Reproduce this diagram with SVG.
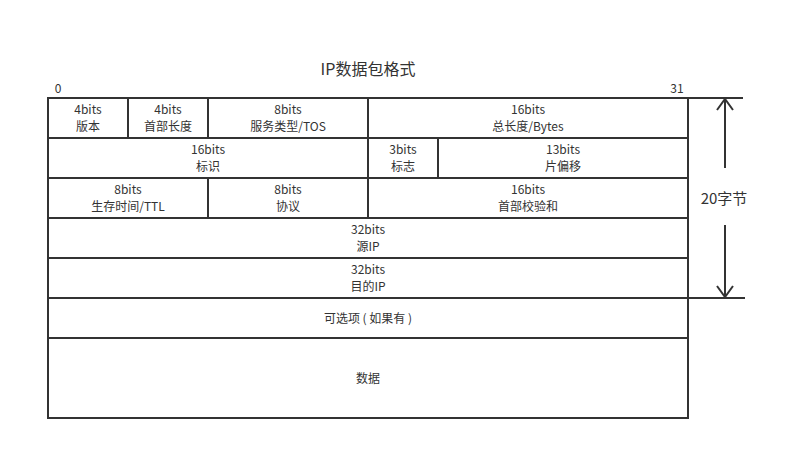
<svg xmlns="http://www.w3.org/2000/svg" width="786" height="450" viewBox="0 0 786 450">
<style>
.b{fill:none;stroke:#333;stroke-width:2}
.t{font-family:"Noto Sans CJK SC","Noto Sans",sans-serif;font-size:12px;fill:#333;text-anchor:middle}
.l{stroke:#333;stroke-width:2;fill:none}
</style>
<rect width="786" height="450" fill="#fff"/>
<text x="368" y="75" class="t" style="font-size:16px">IP数据包格式</text>
<text x="58" y="93" class="t">0</text>
<text x="677" y="93" class="t">31</text>
<g id="connectors">
<line x1="688" y1="98" x2="743" y2="98" class="l"/>
<line x1="688" y1="298" x2="745" y2="298" class="l"/>
<line x1="725" y1="99" x2="725" y2="168" class="l"/>
<polyline points="717,110 725,99 733,110" class="l"/>
<line x1="725" y1="225" x2="725" y2="297" class="l"/>
<polyline points="717,286 725,297 733,286" class="l"/>
</g>
<text x="724" y="204" class="t" style="font-size:15px">20字节</text>
<g id="version"><rect x="48" y="98" width="80" height="40" class="b"/><text x="88" y="114" class="t">4bits</text><text x="88" y="131" class="t">版本</text></g>
<g id="ihl"><rect x="128" y="98" width="80" height="40" class="b"/><text x="168" y="114" class="t">4bits</text><text x="168" y="131" class="t">首部长度</text></g>
<g id="tos"><rect x="208" y="98" width="160" height="40" class="b"/><text x="288" y="114" class="t">8bits</text><text x="288" y="131" class="t">服务类型/TOS</text></g>
<g id="total"><rect x="368" y="98" width="320" height="40" class="b"/><text x="528" y="114" class="t">16bits</text><text x="528" y="131" class="t">总长度/Bytes</text></g>
<g id="ident"><rect x="48" y="138" width="320" height="40" class="b"/><text x="208" y="154" class="t">16bits</text><text x="208" y="171" class="t">标识</text></g>
<g id="flags"><rect x="368" y="138" width="70" height="40" class="b"/><text x="403" y="154" class="t">3bits</text><text x="403" y="171" class="t">标志</text></g>
<g id="frag"><rect x="438" y="138" width="250" height="40" class="b"/><text x="563" y="154" class="t">13bits</text><text x="563" y="171" class="t">片偏移</text></g>
<g id="ttl"><rect x="48" y="178" width="160" height="40" class="b"/><text x="128" y="194" class="t">8bits</text><text x="128" y="211" class="t">生存时间/TTL</text></g>
<g id="proto"><rect x="208" y="178" width="160" height="40" class="b"/><text x="288" y="194" class="t">8bits</text><text x="288" y="211" class="t">协议</text></g>
<g id="checksum"><rect x="368" y="178" width="320" height="40" class="b"/><text x="528" y="194" class="t">16bits</text><text x="528" y="211" class="t">首部校验和</text></g>
<g id="src"><rect x="48" y="218" width="640" height="40" class="b"/><text x="368" y="234" class="t">32bits</text><text x="368" y="251" class="t">源IP</text></g>
<g id="dst"><rect x="48" y="258" width="640" height="40" class="b"/><text x="368" y="274" class="t">32bits</text><text x="368" y="291" class="t">目的IP</text></g>
<g id="options"><rect x="48" y="298" width="640" height="40" class="b"/><text x="368" y="323" class="t">可选项 ( 如果有 )</text></g>
<g id="data"><rect x="48" y="338" width="640" height="80" class="b"/><text x="368" y="383" class="t">数据</text></g>
</svg>
